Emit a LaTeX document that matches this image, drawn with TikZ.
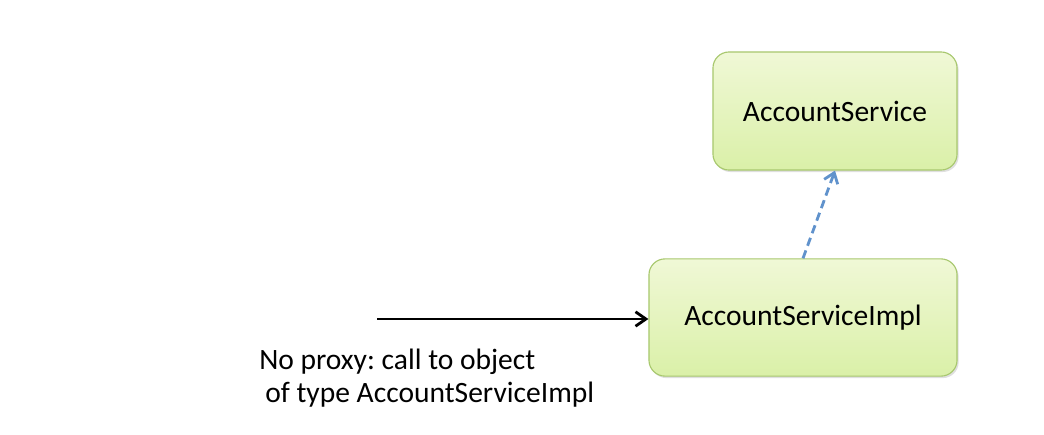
\documentclass[tikz,border=0pt]{standalone}
\usepackage{fontspec}
\setmainfont{Carlito}
\usepackage{tikz}
\usetikzlibrary{arrows.meta,shadows}
\frenchspacing

\definecolor{boxline}{RGB}{168,200,110}
\definecolor{boxtop}{RGB}{240,248,214}
\definecolor{boxbot}{RGB}{218,240,168}
\definecolor{dashblue}{RGB}{96,146,204}

\tikzset{
	beanbox/.style={draw=boxline, line width=0.8pt, rounded corners=0.4cm,
		top color=boxtop, bottom color=boxbot,
		drop shadow={shadow xshift=0.04cm, shadow yshift=-0.05cm, opacity=0.25},
		font=\fontsize{21}{23}\selectfont},
}

\begin{document}
\begin{tikzpicture}[x=0.025cm, y=-0.025cm]
		%%%%% START %%%%%
		
		\useasboundingbox[fill=white] (0, 0) rectangle (1044, 434);
		
		\node[beanbox, minimum width=6.1cm, minimum height=2.95cm] (iface) at (835, 111) {AccountService};
		\node[beanbox, minimum width=7.7cm, minimum height=2.93cm] (impl) at (803, 317.5) {AccountServiceImpl};
		
		\coordinate (caller) at (377, 319);
		\draw[line width=2pt, -{Straight Barb[length=2.6mm, width=3.6mm]}] (caller) -- (caller -| impl.west);
		
		\draw[line width=2pt, color=dashblue, dash pattern=on 6pt off 3.5pt, -{Straight Barb[length=2.4mm, width=3.6mm]}] (impl.north) -- (iface.south);
		
		\node[anchor=north west, align=left, inner sep=0pt, font=\fontsize{21}{23.5}\selectfont] (note) at (259, 349) {No proxy: call to object\\\hspace{0.15cm}of type AccountServiceImpl};
		
		%%%%% END %%%%%
	\end{tikzpicture}
\end{document}
